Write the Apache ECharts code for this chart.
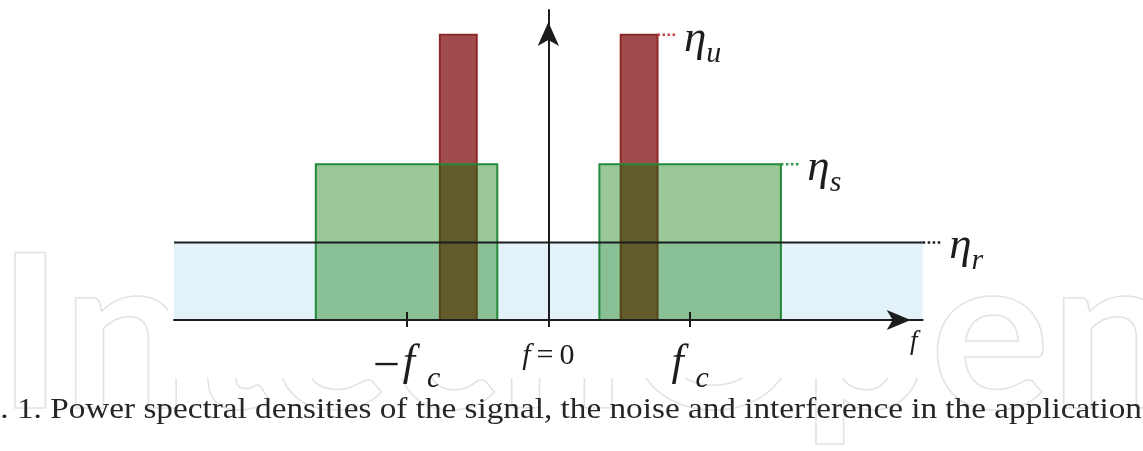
<!DOCTYPE html>
<html>
<head>
<meta charset="utf-8">
<script src="https://cdn.jsdelivr.net/npm/echarts@6/dist/echarts.min.js"></script>
<style>
  html, body { margin: 0; padding: 0; background: #fff; }
  #chart { width: 1143px; height: 451px; }
</style>
</head>
<body>
<div id="chart"></div>
<script>
// frequency in units of f_c, level in units of eta_r
const noiseBand = [-2.64, 2.64];
const signalBands = [[-1.64, -0.36], [0.36, 1.64]];
const interfBands = [[-0.765, -0.505], [0.51, 0.77]];
const etaR = 1.0;
const etaS = 2.01;
const etaU = 3.68;
const levelTop = 4.0;
const tickValues = [-1, 0, 1];
const tickLabels = ['{m|−}{f|f}{s|c}', '{z|f}{e|\u2009=\u20090}', '{f|f}{s|c}'];
const levelNames = ['{g|η}{s|u}', '{g|η}{s|s}', '{g|η}{s|r}'];
const axisName = 'f';
const caption = 'Fig. 1. Power spectral densities of the signal, the noise and interference in the application';
const watermark = 'IntechOpen';

const serif = '"Liberation Serif", "Times New Roman", serif';
const ink = '#1d1d1d';
const lead = 0.13; // dotted leader length
const leaderColors = ['#c04545', '#2f9a45', ink];

const myChart = echarts.init(document.getElementById('chart'));

function bandItem(fill, stroke) {
  return function (params, api) {
    const p0 = api.coord([api.value(0), api.value(2)]);
    const p1 = api.coord([api.value(1), 0]);
    return {
      type: 'rect',
      shape: { x: p0[0], y: p0[1], width: p1[0] - p0[0], height: p1[1] - p0[1] },
      style: { fill: fill, stroke: stroke, lineWidth: stroke ? 2 : 0 }
    };
  };
}

// subscript tokens sit at the bottom of a taller line box
const labelRich = {
  g: { fontFamily: serif, fontStyle: 'italic', fontSize: 45, fill: ink, height: 44, lineHeight: 44, verticalAlign: 'top' },
  s: { fontFamily: serif, fontStyle: 'italic', fontSize: 30, fill: ink, height: 30, lineHeight: 52, verticalAlign: 'bottom' }
};

// dotted leader from a level's right edge, with its eta label
function leaderItem(params, api) {
  const i = params.dataIndex;
  const p0 = api.coord([api.value(0), api.value(1)]);
  const p1 = api.coord([api.value(0) + lead, api.value(1)]);
  return {
    type: 'group',
    children: [
      {
        type: 'line',
        shape: { x1: p0[0], y1: p0[1], x2: p1[0], y2: p1[1] },
        style: { stroke: leaderColors[i], lineWidth: 2.5, lineDash: [2.5, 2.5] }
      },
      {
        type: 'text',
        x: p1[0] + 8,
        y: p1[1] + 8,
        style: { text: levelNames[i], rich: labelRich, align: 'left', verticalAlign: 'middle' }
      }
    ]
  };
}

const option = {
  animation: false,
  backgroundColor: '#fff',
  grid: { left: 174, right: 220.3, top: 10, bottom: 131, outerBoundsMode: 'none' },
  xAxis: [
    {
      type: 'value',
      min: noiseBand[0],
      max: noiseBand[1],
      z: 10,
      name: axisName,
      nameLocation: 'end',
      nameGap: -9,
      nameTextStyle: {
        fontFamily: serif, fontStyle: 'italic', fontSize: 27, color: ink,
        align: 'center', verticalAlign: 'top', lineHeight: 26, padding: [9, 0, 0, 0]
      },
      axisLine: {
        show: true, onZero: true,
        symbol: ['none', 'arrow'], symbolSize: [15, 24], symbolOffset: [0, -12],
        lineStyle: { color: ink, width: 2 }
      },
      axisTick: { show: true, inside: false, length: 7, customValues: tickValues, lineStyle: { color: ink, width: 2 } },
      axisLabel: {
        show: true,
        customValues: tickValues,
        margin: 21.5,
        formatter: function (v) { return tickLabels[tickValues.indexOf(v)]; },
        rich: {
          m: { fontFamily: serif, fontSize: 48, color: ink, height: 44, lineHeight: 44, verticalAlign: 'top', padding: [4, 3, 0, 0] },
          f: { fontFamily: serif, fontStyle: 'italic', fontSize: 44, color: ink, height: 44, lineHeight: 44, verticalAlign: 'top', padding: [0, 12, 0, 0] },
          s: { fontFamily: serif, fontStyle: 'italic', fontSize: 30, color: ink, height: 30, lineHeight: 53, verticalAlign: 'bottom' },
          z: { fontFamily: serif, fontStyle: 'italic', fontSize: 30, color: ink, lineHeight: 30, verticalAlign: 'top' },
          e: { fontFamily: serif, fontSize: 30, color: ink, lineHeight: 30, verticalAlign: 'top' }
        }
      },
      splitLine: { show: false }
    },
    {
      type: 'value',
      position: 'bottom',
      min: noiseBand[0],
      max: noiseBand[1],
      z: 10,
      axisLine: { show: false },
      axisTick: { show: true, inside: true, length: 8, customValues: [tickValues[0], tickValues[2]], lineStyle: { color: ink, width: 2 } },
      axisLabel: { show: false },
      splitLine: { show: false }
    }
  ],
  yAxis: {
    type: 'value',
    min: 0,
    max: levelTop,
    z: 10,
    axisLine: {
      show: true, onZero: true,
      symbol: ['none', 'arrow'], symbolSize: [16, 24], symbolOffset: [0, -12],
      lineStyle: { color: ink, width: 2 }
    },
    axisTick: { show: false },
    axisLabel: { show: false },
    splitLine: { show: false }
  },
  graphic: [
    {
      type: 'text', z: 0, silent: true, x: -3, y: 339, scaleX: 1.05,
      style: {
        text: watermark, font: 'bold 214px Lato', fill: 'none',
        stroke: '#e3e3e3', lineWidth: 1.5, verticalAlign: 'middle'
      }
    },
    {
      type: 'rect', z: 1, silent: true,
      shape: { x: 168, y: 0, width: 758, height: 378 },
      style: { fill: '#fff' }
    },
    {
      type: 'text', z: 20, silent: true, x: -44, y: 410, scaleX: 1.146,
      style: { text: caption, font: '29px "Liberation Serif"', fill: '#262626', verticalAlign: 'middle' }
    }
  ],
  series: [
    {
      type: 'custom', z: 2, silent: true,
      encode: { x: [0, 1], y: 2 },
      data: [[noiseBand[0], noiseBand[1], etaR]],
      renderItem: bandItem('#e3f2f8', null)
    },
    {
      type: 'custom', z: 3, silent: true,
      encode: { x: [0, 1], y: 2 },
      data: interfBands.map(b => [b[0], b[1], etaU]),
      renderItem: bandItem('#a04c4c', '#8c2828')
    },
    {
      type: 'custom', z: 4, silent: true,
      encode: { x: [0, 1], y: 2 },
      data: signalBands.map(b => [b[0], b[1], etaS]),
      renderItem: bandItem('rgba(5,117,0,0.4)', '#23893a')
    },
    {
      type: 'line', z: 5, silent: true, symbol: 'none',
      data: [[noiseBand[0], etaR], [noiseBand[1], etaR]],
      lineStyle: { color: ink, width: 2 }
    },
    {
      type: 'custom', z: 5, silent: true,
      encode: { x: 0, y: 1 },
      data: [
        [interfBands[1][1], etaU],
        [signalBands[1][1], etaS],
        [noiseBand[1], etaR]
      ],
      renderItem: leaderItem
    }
  ]
};
myChart.setOption(option);
window.onresize = function () {
  myChart.resize();
};
</script>
</body>
</html>
